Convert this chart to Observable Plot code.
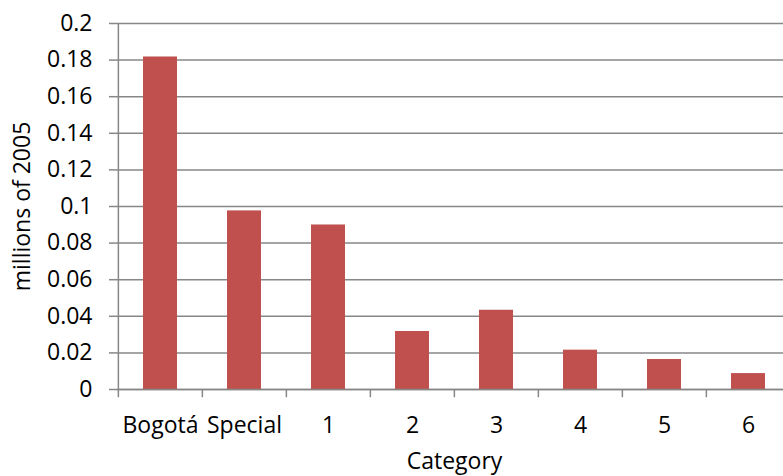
<!DOCTYPE html>
<html><head><meta charset="utf-8">
<script src="https://cdn.jsdelivr.net/npm/d3@7"></script>
<script src="https://cdn.jsdelivr.net/npm/@observablehq/plot@0.6"></script>
<style>
body{margin:0;background:#fff;}
#chart svg{overflow:visible;}
</style>
</head><body><div id="chart"></div>
<script>
const categories = ["Bogotá", "Special", "1", "2", "3", "4", "5", "6"];
const values = [0.1817, 0.0976, 0.0899, 0.0317, 0.0433, 0.0215, 0.0164, 0.0087];
const yTicks = [0, 0.02, 0.04, 0.06, 0.08, 0.1, 0.12, 0.14, 0.16, 0.18, 0.2];
const data = categories.map((c, i) => ({category: c, value: values[i]}));

const W = 783, H = 476, mL = 117, mR = -8;
const band = (W - mR - mL) / categories.length;
const grid = "#878787";
const fs = 23;

const plot = Plot.plot({
  width: W, height: H,
  marginLeft: mL, marginRight: mR, marginTop: 23, marginBottom: 87,
  style: {fontFamily: "'Open Sans', sans-serif", fontSize: fs + "px", color: "#000", background: "#fff"},
  x: {type: "band", domain: categories, padding: 0.6, paddingOuter: 0.3, label: null},
  y: {domain: [0, 0.2], label: null},
  marks: [
    Plot.ruleY(yTicks, {stroke: grid, strokeWidth: 1.5}),
    Plot.rectY(data, {x: "category", y: "value", fill: "#C0504D"}),
    Plot.ruleX([categories[0]], {x: d => d, y1: 0, y2: 0.2, dx: -band / 2, stroke: grid, strokeWidth: 1.5}),
    Plot.ruleX(categories, {x: d => d, y1: 0, y2: -0.0045, dx: -band / 2, stroke: grid, strokeWidth: 1.5}),
    Plot.ruleY([0], {stroke: grid, strokeWidth: 1.5}),
    Plot.axisY({ticks: yTicks, tickSize: 8, tickPadding: 17, stroke: grid, strokeWidth: 1.5, tickFormat: d => String(+d.toFixed(2)), fontSize: fs, label: null}),
    Plot.axisX({tickSize: 0, tickPadding: 27, fontSize: fs, label: null}),
    Plot.text(["Category"], {y: -0.0392, text: d => d, fontSize: fs}),
    Plot.text(["millions of 2005"], {frameAnchor: "left", textAnchor: "middle", dx: -95, rotate: -90, text: d => d, fontSize: fs})
  ]
});
document.getElementById("chart").appendChild(plot);
</script>
</body></html>
